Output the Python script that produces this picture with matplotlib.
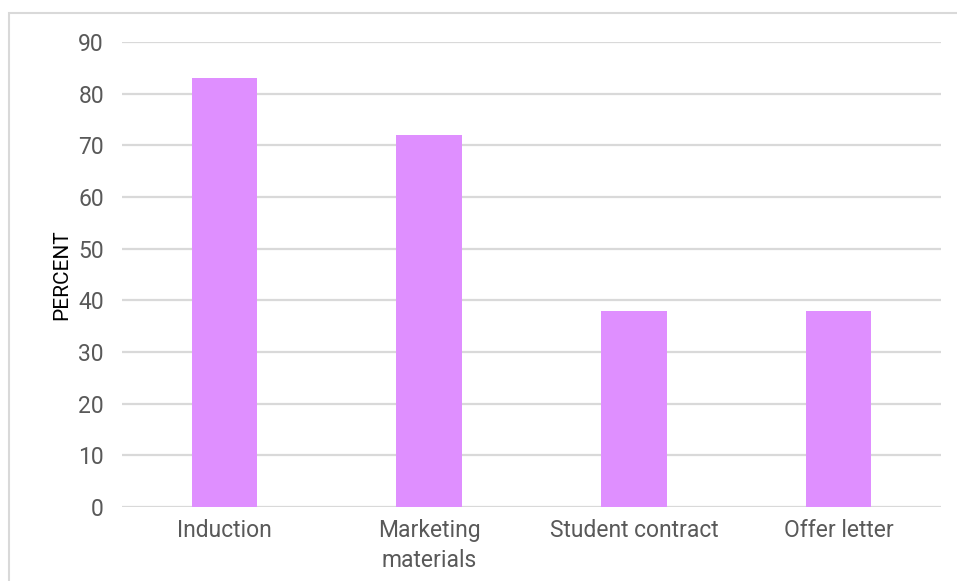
import matplotlib.pyplot as plt
from matplotlib.patches import Rectangle

categories = ['Induction', 'Marketing\nmaterials', 'Student contract', 'Offer letter']
percent = [83, 72, 38, 38]
y_ticks = [0, 10, 20, 30, 40, 50, 60, 70, 80, 90]

plt.rcParams['font.family'] = ['Roboto', 'DejaVu Sans']

fig = plt.figure(figsize=(9.57, 5.81), dpi=100)
ax = fig.add_axes([0.1275, 0.1274, 0.8558, 0.8003])

# light frame round the chart area
fig.patches.append(Rectangle((9 / 957, -0.05), 1.0, 1 - 13 / 581 + 0.05,
                             transform=fig.transFigure, fill=False,
                             edgecolor='#d9d9d9', linewidth=1.5))

x = range(len(categories))
ax.bar(x, percent, width=0.32, color='#df8fff', zorder=3)

ax.set_xlim(-0.5, len(categories) - 0.5)
ax.set_ylim(0, 90)
ax.set_yticks(y_ticks)
ax.set_xticks(list(x))
ax.set_xticklabels(categories, fontsize=16.5, color='#595959', linespacing=1.35)
ax.tick_params(axis='y', labelsize=16.5, labelcolor='#595959', length=0, pad=13)
ax.tick_params(axis='x', length=0, pad=9)
ax.grid(axis='y', color='#d9d9d9', linewidth=1.6, zorder=0)
for s in ax.spines.values():
    s.set_visible(False)
ax.set_ylabel('PERCENT', fontsize=15, color='#000000', labelpad=5)

fig.savefig('out.png', dpi=100)
